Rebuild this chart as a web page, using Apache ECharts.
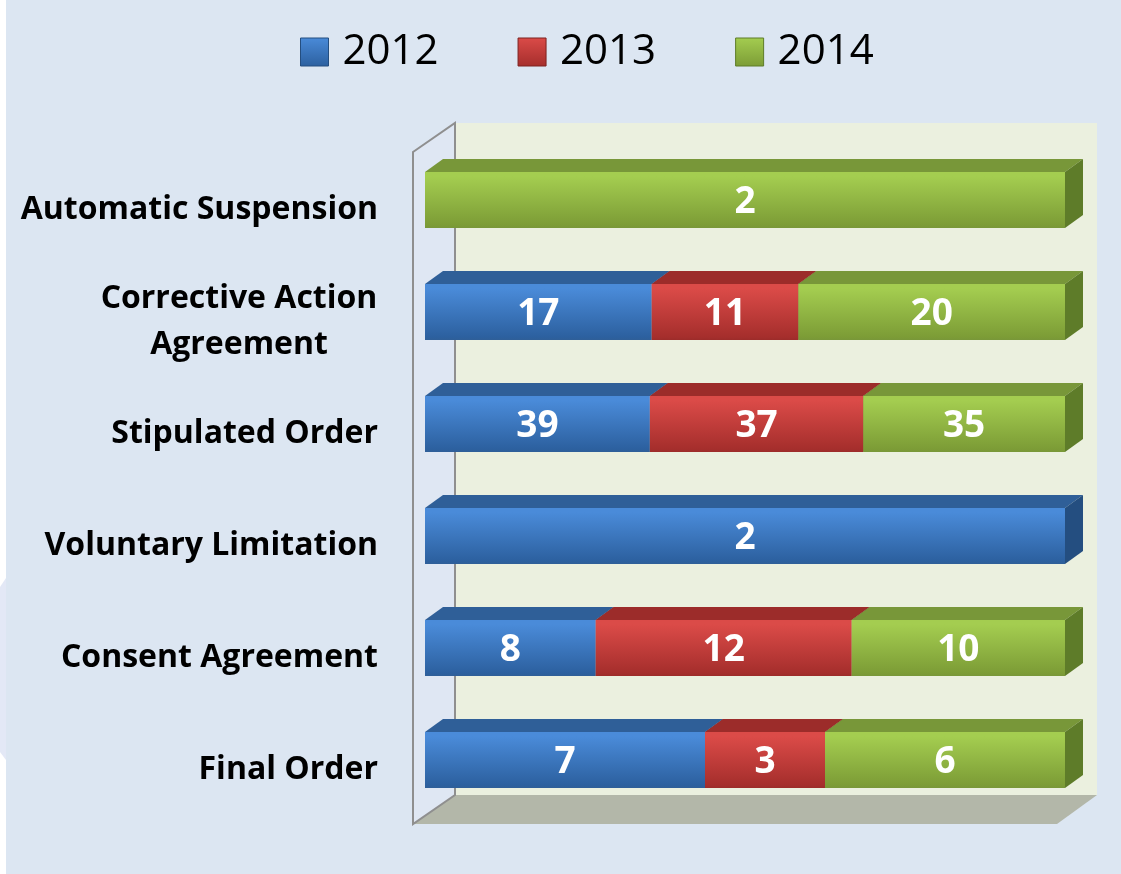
<!DOCTYPE html>
<html>
<head>
<meta charset="utf-8">
<script src="https://cdn.jsdelivr.net/npm/echarts@6/dist/echarts.min.js"></script>
<style>
  html, body { margin: 0; padding: 0; background: #dce6f2; }
  #main { width: 1121px; height: 874px; }
</style>
</head>
<body>
<div id="main"></div>
<script>
var categories = ['Automatic Suspension', 'Corrective Action Agreement', 'Stipulated Order', 'Voluntary Limitation', 'Consent Agreement', 'Final Order'];
var years = ['2012', '2013', '2014'];
var y2012 = [0, 17, 39, 2, 8, 7];
var y2013 = [0, 11, 37, 0, 12, 3];
var y2014 = [2, 20, 35, 0, 10, 6];

var raws = [y2012, y2013, y2014];
// face colours: front gradient top/bottom, top face, side face
var faces = [
  { hi: '#4a8bd9', lo: '#2c609f', top: '#2f5f98', side: '#244e80' },
  { hi: '#db4b48', lo: '#a52e2c', top: '#9c2c2a', side: '#7d2220' },
  { hi: '#a4cd50', lo: '#7c9c36', top: '#789739', side: '#5e7c29' }
];
var DX = 18, DY = 13;

// 100% stacked: start / end percent per segment
function buildData(k) {
  return categories.map(function (c, i) {
    var tot = y2012[i] + y2013[i] + y2014[i];
    var s = 0;
    for (var j = 0; j < k; j++) s += raws[j][i];
    return [s / tot * 100, (s + raws[k][i]) / tot * 100, i, raws[k][i]];
  });
}

function renderItem(params, api) {
  var raw = api.value(3);
  if (!raw) return null;
  var p0 = api.coord([api.value(0), api.value(2)]);
  var p1 = api.coord([api.value(1), api.value(2)]);
  var h = api.size([0, 1])[1] * 0.5;
  var x0 = p0[0], x1 = p1[0], yt = p0[1] - h / 2, yb = p0[1] + h / 2;
  var f = faces[params.seriesIndex];
  return {
    type: 'group',
    children: [
      { type: 'polygon', shape: { points: [[x0, yt], [x1, yt], [x1 + DX, yt - DY], [x0 + DX, yt - DY]] }, style: { fill: f.top } },
      { type: 'polygon', shape: { points: [[x1, yt], [x1 + DX, yt - DY], [x1 + DX, yb - DY], [x1, yb]] }, style: { fill: f.side } },
      { type: 'rect', shape: { x: x0, y: yt, width: x1 - x0, height: yb - yt },
        style: { fill: { type: 'linear', x: 0, y: 0, x2: 0, y2: 1, colorStops: [
          { offset: 0, color: f.hi }, { offset: 0.08, color: f.hi }, { offset: 0.95, color: f.lo }, { offset: 1, color: f.top }] } } },
      { type: 'text', style: { text: String(raw), x: (x0 + x1) / 2, y: (yt + yb) / 2 + 2, align: 'center', verticalAlign: 'middle',
        fill: '#ffffff', fontSize: 37, fontWeight: 'bold', fontFamily: 'Open Sans' } }
    ]
  };
}

var chart = echarts.init(document.getElementById('main'));
var option = {
  backgroundColor: '#dce6f2',
  animation: false,
  legend: {
    left: 295, top: 24,
    itemWidth: 28, itemHeight: 28, itemGap: 79,
    icon: 'rect',
    textStyle: { fontFamily: 'Open Sans', fontSize: 42, color: '#000', padding: [0, 0, 0, 9], lineHeight: 46 },
    data: years.map(function (y, k) {
      return { name: y, itemStyle: { color: { type: 'linear', x: 0, y: 0, x2: 0, y2: 1, colorStops: [
        { offset: 0, color: faces[k].hi }, { offset: 1, color: faces[k].lo }] }, borderColor: faces[k].side, borderWidth: 1 } };
    })
  },
  grid: { left: 425, top: 144, width: 640, height: 672 },
  xAxis: { type: 'value', min: 0, max: 100, show: false },
  yAxis: {
    type: 'category', inverse: true, data: categories,
    axisLine: { show: false }, axisTick: { show: false },
    axisLabel: {
      margin: 47, padding: [20, 0, 0, 0],
      color: '#000', fontFamily: 'Open Sans', fontWeight: 'bold', fontSize: 32, lineHeight: 46,
      formatter: function (v) {
        if (v === 'Corrective Action Agreement') return '{c|Corrective Action}\n{c|Agreement}';
        return v;
      },
      rich: { c: { width: 278, align: 'center', color: '#000', fontFamily: 'Open Sans', fontWeight: 'bold', fontSize: 32, lineHeight: 46 } }
    }
  },
  graphic: [
    { type: 'rect', shape: { x: 0, y: 0, width: 6, height: 874 }, style: { fill: '#ffffff' }, z: -10 },
    { type: 'polygon', shape: { points: [[0, 587], [6, 578], [6, 760], [0, 752]] }, style: { fill: '#e3e8f6' }, z: -10 },
    { type: 'rect', shape: { x: 455, y: 123, width: 642, height: 672 }, style: { fill: '#ebf0df' }, z: -10 },
    { type: 'polygon', shape: { points: [[413, 824], [455, 795], [1097, 795], [1057, 824]] }, style: { fill: '#b3b7a9' }, z: -10 },
    { type: 'polygon', shape: { points: [[413, 152], [455, 123], [455, 795], [413, 824]] }, style: { fill: '#dfe7f3', stroke: '#8f8f8f', lineWidth: 2 }, z: -9 }
  ],
  series: years.map(function (y, k) {
    return {
      name: y, type: 'custom', renderItem: renderItem,
      itemStyle: { color: faces[k].hi },
      encode: { x: [0, 1], y: 2 },
      data: buildData(k)
    };
  })
};
chart.setOption(option);
</script>
</body>
</html>
